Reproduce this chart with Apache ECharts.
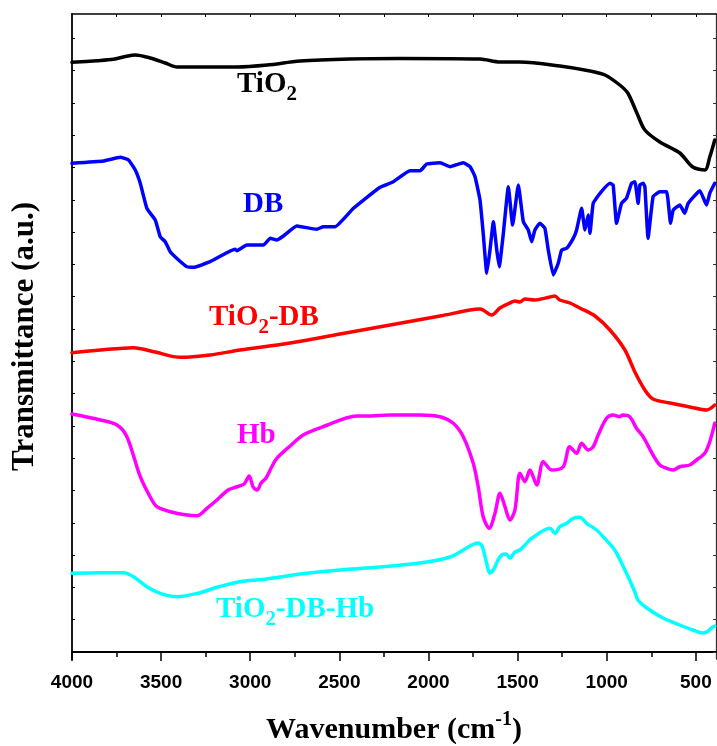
<!DOCTYPE html>
<html>
<head>
<meta charset="utf-8">
<script src="https://cdn.jsdelivr.net/npm/echarts@6/dist/echarts.min.js"></script>
<style>html,body{margin:0;padding:0;background:#fff}#c{width:717px;height:746px}</style>
</head>
<body>
<div id="c"></div>
<script>
// ---- data (wavenumber cm^-1, transmittance a.u. offset) ----
const tio2 = [[4000,589.7],[3860,591.3],[3768,592.7],[3701,595.5],[3645,597],[3561,594],[3477,589],[3410,585],[3281,585],[3074,585],[2905,587],[2720,591],[2440,593],[2160,593.5],[1711,593],[1599,590],[1487,590],[1263,586],[1094,581],[1010,577],[927,567],[882,559],[831,539],[786,522],[702,510],[590,499],[517,485],[450,482],[422,495],[394,512]];
const db = [[4000,488.7],[3823,491],[3729,494.7],[3683,492],[3645,482],[3617,468.7],[3580,443.7],[3533,432],[3505,415.3],[3477,410.3],[3449,400.3],[3402,392],[3355,385.3],[3318,384.7],[3225,390.3],[3131,399.3],[3085,402.7],[3075,401.3],[3019,407],[2926,407],[2888,413.7],[2851,412],[2814,416],[2739,426],[2627,422.7],[2590,425.3],[2524,425.3],[2421,443.7],[2272,464.7],[2197,470.3],[2104,481.3],[2047,481.3],[2010,488],[1935,489.3],[1879,485.3],[1805,489.3],[1767,485.3],[1739,475.3],[1711,452],[1693,418.7],[1673,378.7],[1655,402],[1636,430.3],[1617,402],[1603,385.3],[1580,418.7],[1552,465.3],[1528,427],[1496,467],[1468,430.3],[1440,422],[1421,410.3],[1403,422],[1375,428.7],[1347,423.7],[1328,402],[1300,377],[1272,388.7],[1253,402],[1225,403.7],[1188,413.7],[1169,422],[1141,443.7],[1122,422],[1104,437],[1094,418.7],[1076,448.7],[1038,458.7],[982,468.7],[964,467],[945,428.7],[917,448.7],[889,453.7],[861,468.7],[842,470.3],[824,448.7],[814,467],[796,468.7],[786,465.3],[768,413.7],[740,455.3],[702,460.3],[664,460.3],[642,428.7],[627,442],[590,447],[562,438.7],[543,448.7],[478,461.3],[440,447],[422,458.7],[394,468.7]];
const tio2db = [[4000,299.3],[3841,302],[3656,304.3],[3533,300],[3393,294.7],[3225,297],[3057,302],[2776,309],[2496,318],[2215,327],[1935,336],[1767,342],[1711,343],[1645,337],[1599,344],[1543,349],[1515,351],[1487,350],[1459,353],[1403,352],[1319,355],[1291,356],[1263,352],[1207,349],[1151,344],[1066,336],[982,322],[898,302],[842,280],[786,262],[741,253],[646,249],[534,245],[440,242],[394,247]];
const hb = [[4000,238],[3841,232],[3748,227],[3692,215.3],[3617,175.3],[3552,152],[3523,145.3],[3449,140.3],[3355,137],[3299,136.3],[3243,143.7],[3187,152],[3124,162],[3079,165],[3034,168],[3006,176],[2984,165],[2961,162],[2939,169],[2911,174],[2877,186],[2851,193.7],[2776,206],[2703,217],[2591,225.3],[2401,236],[2345,236],[2216,237],[2047,237],[1935,235.3],[1861,228.7],[1805,215.3],[1749,188.7],[1721,165.3],[1693,135.3],[1659,123.7],[1627,138.7],[1599,158.7],[1571,145.3],[1543,132],[1515,142],[1487,178.7],[1459,170.3],[1431,182],[1393,167],[1356,190.3],[1309,182],[1244,185.3],[1208,205.3],[1169,198.7],[1141,208.7],[1104,202],[1076,205.3],[1048,217],[1001,233.7],[964,237],[927,235.3],[911,237],[871,235.3],[833,223.7],[796,215.3],[740,197],[702,187],[664,183.7],[627,182],[590,185.3],[534,187],[496,192],[450,198.7],[422,210.3],[394,228.7]];
const tio2dbhb = [[4000,78.7],[3841,79.3],[3711,79.3],[3655,75.3],[3580,65.3],[3505,58.7],[3411,55.3],[3281,59.3],[3187,64.7],[3056,70.3],[2928,72.5],[2832,75],[2720,78],[2496,82],[2272,85],[2047,89],[1879,95],[1767,106],[1723,109],[1700,106],[1678,92],[1655,79],[1633,83],[1610,92],[1588,97],[1565,98],[1543,94],[1515,100],[1487,102],[1459,107],[1421,113.7],[1319,123.7],[1291,118.7],[1263,125.3],[1225,128.7],[1188,133.7],[1151,134.7],[1113,128.7],[1057,122],[1020,115.3],[955,102],[898,82],[842,60],[825,52],[775,44],[685,34],[590,27],[517,22],[461,19],[439,20],[405,25],[394,26]];

const xMajor = [4000,3500,3000,2500,2000,1500,1000,500];
const xMinor = [3750,3250,2750,2250,1750,1250,750];
const xTop = [3750,3500,3250,3000,2750,2500,2250,2000,1750,1500,1250,1000,750,500];
const yTicks = [0,32.3,64.6,96.9,129.2,161.5,193.8,226.1,258.4,290.7,323,355.3,387.6,419.9,452.2,484.5,516.8,549.1,581.4,613.7];

const seriesNames = ['TiO2','DB','TiO2-DB','Hb','TiO2-DB-Hb'];
const seriesColors = ['#000000','#0000ff','#ff0000','#ff00ff','#00ffff'];
const seriesData = [tio2, db, tio2db, hb, tio2dbhb];
const labelTexts = ['{m|TiO}{s|2}','{m|DB}','{m|TiO}{s|2}{m|-DB}','{m|Hb}','{m|TiO}{s|2}{m|-DB-Hb}'];

const chart = echarts.init(document.getElementById('c'), null, {renderer:'canvas'});
const serif = '"Liberation Serif","Times New Roman",serif';
const sans = '"Liberation Sans",Arial,sans-serif';
const X_MIN = 387, X_MAX = 4000, Y_MIN = -7, Y_MAX = 638;

const labelPos = [[237,70],[243,190],[209,303],[237,421],[216,595]];

function richFor(color){
  return {
    m:{fontSize:29, fontWeight:'bold', fontFamily:serif, color:color, lineHeight:30, verticalAlign:'top'},
    s:{fontSize:21, fontWeight:'bold', fontFamily:serif, color:color, lineHeight:20, padding:[14,0,0,0], verticalAlign:'top'}
  };
}

chart.setOption({
  animation:false,
  backgroundColor:'#fff',
  grid:{left:72, right:1, top:14, bottom:87, containLabel:false, outerBoundsMode:'none'},
  xAxis:[
    {type:'value', position:'bottom', inverse:true, min:X_MIN, max:X_MAX,
     axisLine:{show:true, lineStyle:{color:'#000', width:2}},
     axisTick:{show:true, inside:false, length:9, customValues:xMajor, lineStyle:{color:'#000', width:1.5}},
     axisLabel:{show:true, customValues:xMajor, formatter:(v)=>String(v), margin:14, color:'#000', fontSize:19, fontWeight:'bold', fontFamily:sans},
     splitLine:{show:false},
     name:'{m|Wavenumber (cm}{p|-1}{m|)}', nameLocation:'middle', nameGap:51,
     nameTextStyle:{color:'#000', fontSize:30, fontWeight:'bold', fontFamily:serif,
       rich:{
         m:{fontSize:30, fontWeight:'bold', fontFamily:serif, color:'#000', lineHeight:32, padding:[5,0,0,0], verticalAlign:'top'},
         p:{fontSize:20, fontWeight:'bold', fontFamily:serif, color:'#000', lineHeight:14, verticalAlign:'top'}
       }}
    },
    {type:'value', position:'bottom', inverse:true, min:X_MIN, max:X_MAX,
     axisLine:{show:false},
     axisTick:{show:true, inside:false, length:5, customValues:xMinor, lineStyle:{color:'#000', width:1.5}},
     axisLabel:{show:false}, splitLine:{show:false}
    },
    {type:'value', position:'top', inverse:true, min:X_MIN, max:X_MAX,
     axisLine:{show:true, lineStyle:{color:'#000', width:1.5}},
     axisTick:{show:true, inside:true, length:3, customValues:xTop, lineStyle:{color:'#000', width:1}},
     axisLabel:{show:false}, splitLine:{show:false}
    }
  ],
  yAxis:[
    {type:'value', position:'left', min:Y_MIN, max:Y_MAX,
     axisLine:{show:true, lineStyle:{color:'#000', width:1.8}},
     axisTick:{show:true, inside:true, length:3, customValues:yTicks, lineStyle:{color:'#000', width:1}},
     axisLabel:{show:false}, splitLine:{show:false},
     name:'Transmittance (a.u.)', nameLocation:'middle', nameGap:32, nameRotate:90,
     nameTextStyle:{color:'#000', fontSize:31, fontWeight:'bold', fontFamily:serif}
    },
    {type:'value', position:'right', min:Y_MIN, max:Y_MAX,
     axisLine:{show:true, lineStyle:{color:'#333', width:1.3}},
     axisTick:{show:true, inside:true, length:3, customValues:yTicks, lineStyle:{color:'#333', width:1}},
     axisLabel:{show:false}, splitLine:{show:false}
    }
  ],
  series: seriesData.map((d,i)=>({
    name:seriesNames[i], type:'line', xAxisIndex:0, yAxisIndex:0,
    data:d, showSymbol:false, symbol:'none', smooth: i===1 ? 0.12 : 0.3,
    lineStyle:{color:seriesColors[i], width:3.5, join:'round', cap:'round'},
    clip:true
  })),
  graphic: labelTexts.map((t,i)=>({
    type:'text', left:labelPos[i][0], top:labelPos[i][1], z:100,
    style:{text:t, fill:seriesColors[i], font:'bold 29px '+serif,
      rich:richFor(seriesColors[i])}
  }))
});
</script>
</body>
</html>
